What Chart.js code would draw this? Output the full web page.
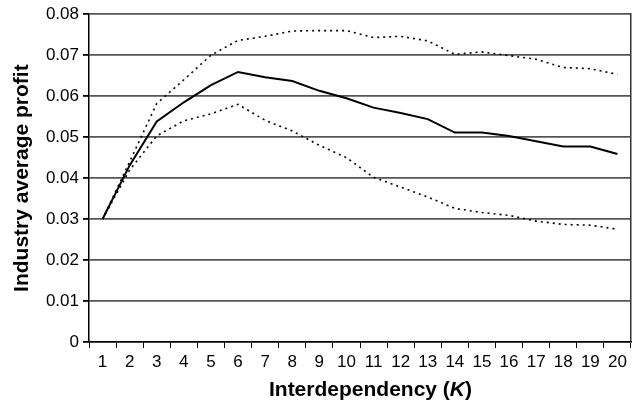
<!DOCTYPE html>
<html>
<head>
<meta charset="utf-8">
<script src="https://cdn.jsdelivr.net/npm/chart.js@4"></script>
<style>
  html, body { margin: 0; padding: 0; background: #fff; }
  #wrap { position: relative; width: 637px; height: 402px; }
  #xtitle {
    position: absolute; left: 0; width: 637px; top: 377px;
    text-align: center; padding-left: 104px; box-sizing: border-box;
    font: bold 21px "Liberation Sans", Arial, sans-serif; color: #000;
  }
</style>
</head>
<body>
<div id="wrap">
  <canvas id="grafico" width="637" height="402"></canvas>
  <div id="xtitle">Interdependency (<i>K</i>)</div>
</div>
<script>
// K = 1..20
const categorias = ["1","2","3","4","5","6","7","8","9","10","11","12","13","14","15","16","17","18","19","20"];

// linea central (media) y bandas punteadas
const media = [0.030, 0.0431, 0.0538, 0.0585, 0.0627, 0.0659, 0.0646, 0.0637, 0.0613, 0.0595,
               0.0572, 0.0559, 0.0544, 0.0511, 0.0511, 0.0503, 0.0490, 0.0477, 0.0477, 0.0459];
const superior = [0.030, 0.0440, 0.0582, 0.0640, 0.0700, 0.0736, 0.0746, 0.0759, 0.0760, 0.0760,
                  0.0743, 0.0746, 0.0735, 0.0702, 0.0708, 0.0699, 0.0690, 0.0670, 0.0667, 0.0653];
const inferior = [0.030, 0.0420, 0.0503, 0.0540, 0.0557, 0.0580, 0.0541, 0.0515, 0.0480, 0.0450,
                  0.0402, 0.0378, 0.0354, 0.0326, 0.0316, 0.0309, 0.0295, 0.0287, 0.0285, 0.0275];

const fuente = "'Liberation Sans', Arial, sans-serif";

function punteada(data) {
  return {
    data: data,
    borderColor: "#000",
    borderWidth: 1.6,
    borderDash: [2, 4],
    pointRadius: 0,
    tension: 0,
    fill: false
  };
}

new Chart(document.getElementById("grafico"), {
  type: "line",
  data: {
    labels: categorias,
    datasets: [
      { data: media, borderColor: "#000", borderWidth: 2, pointRadius: 0, tension: 0, fill: false },
      punteada(superior),
      punteada(inferior)
    ]
  },
  options: {
    responsive: false,
    animation: false,
    layout: { padding: { top: 13, right: 6, left: 0, bottom: 0 } },
    plugins: { legend: { display: false }, tooltip: { enabled: false } },
    scales: {
      x: {
        offset: true,
        grid: { display: true, drawOnChartArea: false, drawTicks: true, tickLength: 6, color: "#000", offset: true },
        border: { color: "#000", width: 1.5 },
        ticks: { color: "#000", font: { family: fuente, size: 17 }, padding: 4, maxRotation: 0, autoSkip: false },
        afterFit: s => { s.height = 60; }
      },
      y: {
        min: 0,
        max: 0.08,
        ticks: {
          stepSize: 0.01,
          color: "#000",
          font: { family: fuente, size: 17 },
          padding: 4,
          callback: v => v === 0 ? "0" : v.toFixed(2)
        },
        grid: { color: "#555", lineWidth: 1.8, tickLength: 6, tickColor: "#000" },
        border: { color: "#000", width: 1.5 },
        title: {
          display: true,
          text: "Industry average profit",
          color: "#000",
          font: { family: fuente, size: 21, weight: "bold" },
          padding: { top: 10, bottom: 0 }
        },
        afterFit: s => { s.width = 89; }
      },
      y2: {
        position: "right",
        min: 0,
        max: 0.08,
        ticks: { display: false },
        grid: { drawOnChartArea: false, drawTicks: false },
        border: { color: "#333", width: 1.5 },
        afterFit: s => { s.width = 0; }
      }
    }
  }
});
</script>
</body>
</html>
